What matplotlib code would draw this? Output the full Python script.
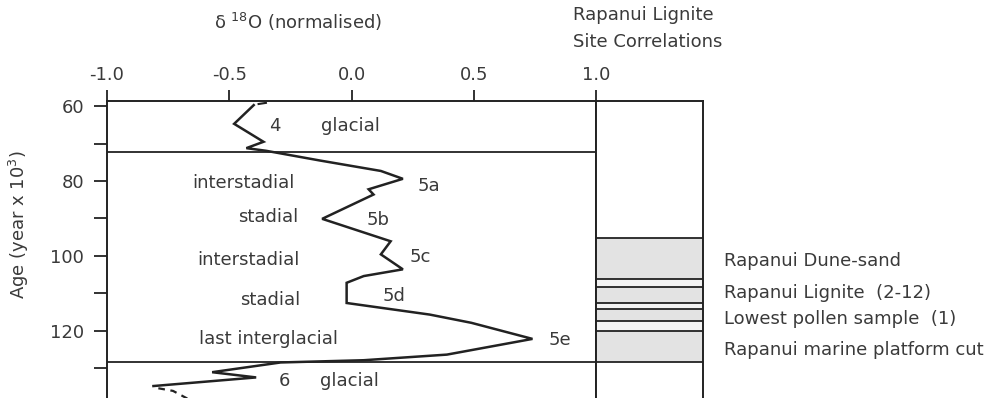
import matplotlib
matplotlib.use("Agg")
import matplotlib.pyplot as plt

# delta 18O curve (normalised) against age (ka)
age = [59.7, 64.7, 69.5, 71.2, 71.9, 74.5, 77.3, 79.4, 82.2, 83.6, 90.1,
       96.1, 99.6, 103.6, 105.4, 107.2, 111.9, 112.6, 115.7, 117.9, 122.2,
       126.4, 127.9, 128.5, 131.1, 132.5, 134.8]
d18o = [-0.40, -0.48, -0.36, -0.43, -0.35, -0.13, 0.12, 0.21, 0.07, 0.09, -0.12,
        0.16, 0.12, 0.21, 0.05, -0.02, -0.02, -0.02, 0.32, 0.49, 0.74,
        0.39, 0.05, -0.29, -0.57, -0.39, -0.81]
# uncertain ends of the record (dashed)
top_age = [59.4, 59.1]
top_d18o = [-0.38, -0.35]
bot_age = [135.4, 136.1, 138.2]
bot_d18o = [-0.79, -0.73, -0.67]

stage_bounds = [72.2, 128.3]
stage_labels = [("4", -0.337, 65.2, "left"), ("glacial", -0.125, 65.2, "left"),
                ("interstadial", -0.44, 80.6, "center"), ("5a", 0.272, 81.4, "left"),
                ("stadial", -0.342, 89.7, "center"), ("5b", 0.063, 90.3, "left"),
                ("interstadial", -0.421, 101.0, "center"), ("5c", 0.239, 100.4, "left"),
                ("stadial", -0.331, 111.9, "center"), ("5d", 0.125, 110.6, "left"),
                ("last interglacial", -0.339, 122.1, "center"), ("5e", 0.804, 122.4, "left"),
                ("6", -0.297, 133.4, "left"), ("glacial", -0.128, 133.4, "left")]

# Rapanui site column
band_edges = [95.3, 106.2, 108.3, 112.6, 114.2, 117.4, 120.1, 128.3]
band_filled = [True, False, True, False, True, False, True]
site_labels = ["Rapanui Dune-sand", "Rapanui Lignite  (2-12)",
               "Lowest pollen sample  (1)", "Rapanui marine platform cut"]
site_label_age = [101.5, 109.8, 117.0, 125.3]

xticks = [-1.0, -0.5, 0.0, 0.5, 1.0]
xtick_labels = ["-1.0", "-0.5", "0.0", "0.5", "1.0"]

plt.rcParams["font.family"] = ["DejaVu Sans"]
plt.rcParams["font.size"] = 13
plt.rcParams["mathtext.default"] = "regular"
TXT = "#3a3a3a"
INK = "#222222"
FS = 13

fig = plt.figure(figsize=(9.87, 3.98), dpi=100)
ax = fig.add_axes([0.1084, 0.0, 0.4955, 0.7462])
axr = fig.add_axes([0.6039, 0.0, 0.1084, 0.7462], sharey=ax)

ax.plot(d18o, age, color=INK, lw=1.8, solid_joinstyle="miter")
ax.plot(top_d18o, top_age, color=INK, lw=1.5)
ax.plot(bot_d18o, bot_age, color=INK, lw=1.6, linestyle=(0, (3, 2.5)))
for b in stage_bounds:
    ax.axhline(b, color=INK, lw=1.3)
for txt, x, y, ha in stage_labels:
    ax.text(x, y, txt, ha=ha, va="center", color=TXT, fontsize=FS)

ax.set_xlim(-1, 1)
ax.set_ylim(138, 58.6)
ax.xaxis.tick_top()
ax.set_xticks(xticks)
ax.set_xticklabels(xtick_labels, color=TXT)
ax.set_yticks([60, 80, 100, 120])
ax.set_yticks([70, 90, 110, 130], minor=True)
ax.tick_params(axis="x", direction="out", length=8, width=1.3, pad=4, colors=INK,
               labelcolor=TXT, labelsize=FS)
ax.tick_params(axis="y", which="both", direction="out", length=9.5, width=1.3, pad=7,
               colors=INK, labelcolor=TXT, labelsize=FS)
ax.spines["bottom"].set_visible(False)
for s in ["top", "left", "right"]:
    ax.spines[s].set_linewidth(1.4)
    ax.spines[s].set_color(INK)
ax.set_ylabel("Age (year x 10$^{3}$)", color=TXT, fontsize=FS)
ax.yaxis.set_label_coords(-0.155, 0.583)

# site column
for i, filled in enumerate(band_filled):
    axr.axhspan(band_edges[i], band_edges[i + 1], color="#e3e3e3" if filled else "#f3f3f3", lw=0)
for b in band_edges:
    axr.axhline(b, color=INK, lw=1.3)
axr.set_xlim(0, 1)
axr.set_xticks([])
axr.tick_params(axis="y", which="both", left=False, labelleft=False)
axr.spines["bottom"].set_visible(False)
for s in ["top", "left", "right"]:
    axr.spines[s].set_linewidth(1.4)
    axr.spines[s].set_color(INK)
for txt, y in zip(site_labels, site_label_age):
    axr.text(1.196, y, txt, ha="left", va="center", color=TXT, fontsize=FS, clip_on=False)

fig.text(0.302, 0.945, r"$\delta$ $^{18}$O (normalised)", ha="center", va="center", color=TXT, fontsize=FS)
fig.text(0.5805, 0.962, "Rapanui Lignite", ha="left", va="center", color=TXT, fontsize=FS)
fig.text(0.5805, 0.894, "Site Correlations", ha="left", va="center", color=TXT, fontsize=FS)

fig.savefig("out.png", dpi=100)
